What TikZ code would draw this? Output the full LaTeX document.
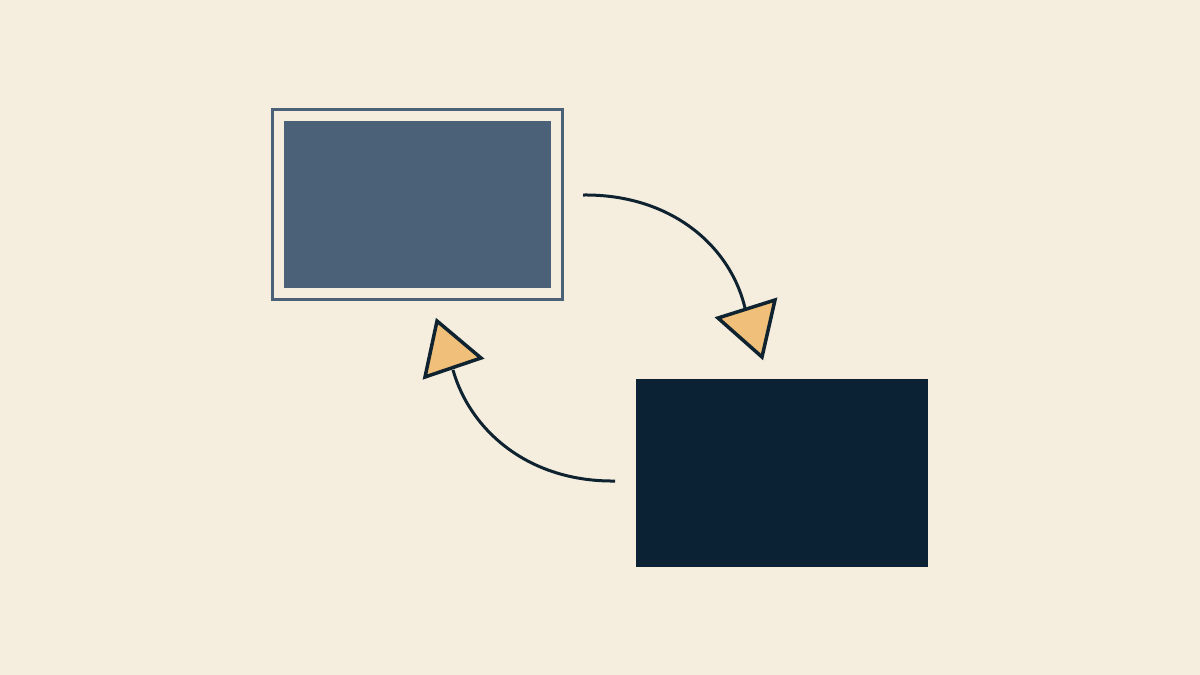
\documentclass[tikz,border=0pt]{standalone}
\usetikzlibrary{calc}
\definecolor{bg}{HTML}{F5EEDF}
\definecolor{slate}{HTML}{4A6178}
\definecolor{navy}{HTML}{0A2233}
\definecolor{ink}{HTML}{0F2230}
\definecolor{amber}{HTML}{F0C07A}
\begin{document}
\begin{tikzpicture}[x=1pt,y=-1pt,
  frame/.style={draw=slate,line width=3pt,minimum width=290pt,minimum height=190pt,inner sep=0pt},
  panel/.style={fill=slate,minimum width=267pt,minimum height=167pt,inner sep=0pt},
  darkbox/.style={fill=navy,minimum width=292pt,minimum height=188pt,inner sep=0pt},
  link/.style={draw=ink,line width=3pt},
  head/.style={draw=ink,fill=amber,line width=3.5pt,line join=miter}]
\fill[bg] (0,0) rectangle (1200,675);
\useasboundingbox (0,0) rectangle (1200,675);
\node[frame] (box1) at (417.5,204) {};
\node[panel] (inner1) at (417.5,204.5) {};
\node[darkbox] (box2) at (782,473) {};
\coordinate (s1) at (583,195);
\coordinate (e1) at (745,308);
\coordinate (s2) at (615,481);
\coordinate (e2) at (453,370);
\draw[link] (s1) .. controls (670,194) and (730,245) .. (e1);
\draw[link] (s2) .. controls (528,482) and (470,430) .. (e2);
\draw[head] (718,318) -- (775,300) -- (762,357) -- cycle;
\draw[head] (437,321) -- (481,358) -- (425,377) -- cycle;
\end{tikzpicture}
\end{document}
